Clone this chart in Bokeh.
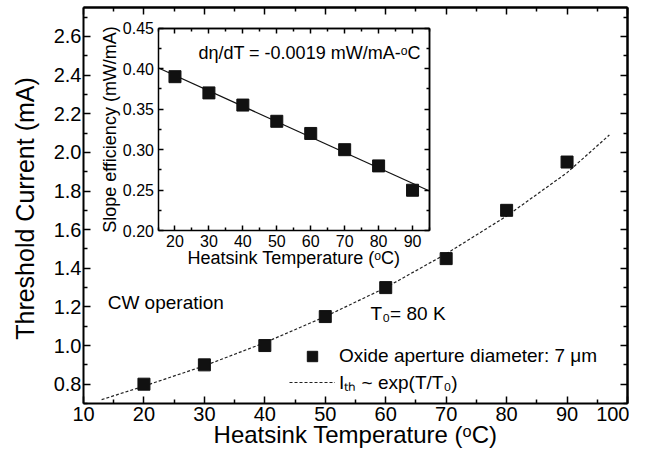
import math
from bokeh.plotting import figure
from bokeh.models import (Range1d, LinearAxis, FixedTicker, Label,
                          Legend, LegendItem, PrintfTickFormatter)
from bokeh.embed import file_html
from bokeh.resources import INLINE

# ---------------- data ----------------
temp = [20, 30, 40, 50, 60, 70, 80, 90]
ith = [0.80, 0.90, 1.00, 1.15, 1.30, 1.45, 1.70, 1.95]
fit_temp = [13, 20, 30, 40, 50, 60, 70, 80, 90, 97]
fit_ith = [0.72, 0.79, 0.895, 1.015, 1.15, 1.30, 1.475, 1.67, 1.895, 2.09]

inset_temp = [20, 30, 40, 50, 60, 70, 80, 90]
slope_eff = [0.39, 0.37, 0.355, 0.335, 0.32, 0.30, 0.28, 0.25]
inset_fit_temp = [15, 95]
inset_fit_eff = [0.401, 0.249]

main_x_major = [10, 20, 30, 40, 50, 60, 70, 80, 90, 100]
main_x_minor = [15, 25, 35, 45, 55, 65, 75, 85, 95]
main_y_major = [0.8, 1.0, 1.2, 1.4, 1.6, 1.8, 2.0, 2.2, 2.4, 2.6]
main_y_minor = [0.7, 0.9, 1.1, 1.3, 1.5, 1.7, 1.9, 2.1, 2.3, 2.5, 2.7]
inset_x_ticks = [20, 30, 40, 50, 60, 70, 80, 90]
inset_x_minor = [15, 25, 35, 45, 55, 65, 75, 85, 95]
inset_y_ticks = [0.20, 0.25, 0.30, 0.35, 0.40, 0.45]
inset_y_minor = [0.225, 0.275, 0.325, 0.375, 0.425]

FONT = "Liberation Sans"
BASE = 0.35   # Label anchor -> alphabetic baseline offset, in em

# ---------------- layout (px inside the 629x448 canvas) ----------------
W, H = 629, 448
XR = (10, 100)
YR = (0.7, 2.75)
FX0, FX1 = 83, 627      # main plot box left/right
FY0, FY1 = 7, 403       # main plot box top/bottom
IX0, IX1 = 157.5, 429   # inset box left/right
IY0, IY1 = 27.5, 230.3  # inset box top/bottom
INS_X = (15, 95)
INS_Y = (0.20, 0.45)

# the frame covers the whole canvas; axes are drawn at fixed locations inside it
mpx = (FX1 - FX0) / (XR[1] - XR[0])
mpy = (FY1 - FY0) / (YR[1] - YR[0])
x_start, x_end = XR[0] - FX0 / mpx, XR[1] + (W - FX1) / mpx
y_start, y_end = YR[0] - (H - FY1) / mpy, YR[1] + FY0 / mpy

ppx = (IX1 - IX0) / (INS_X[1] - INS_X[0])
ppy = (IY1 - IY0) / (INS_Y[1] - INS_Y[0])
ix_start, ix_end = INS_X[0] - IX0 / ppx, INS_X[1] + (W - IX1) / ppx
iy_start, iy_end = INS_Y[0] - (H - IY1) / ppy, INS_Y[1] + IY0 / ppy

p = figure(width=W, height=H, x_range=Range1d(x_start, x_end), y_range=Range1d(y_start, y_end),
           output_backend="svg", toolbar_location=None,
           x_axis_location=None, y_axis_location=None, min_border=0)
p.extra_x_ranges = {"ix": Range1d(ix_start, ix_end)}
p.extra_y_ranges = {"iy": Range1d(iy_start, iy_end)}
p.grid.visible = False
p.outline_line_color = None
p.background_fill_color = "white"
p.border_fill_color = "white"


def style(ax, tick_in=7, minor_in=4, lab_size="20px", lw=2):
    ax.axis_line_width = lw
    ax.axis_line_color = "black"
    ax.major_tick_in = tick_in
    ax.major_tick_out = 0
    ax.minor_tick_in = minor_in
    ax.minor_tick_out = 0
    ax.major_tick_line_width = 1.5
    ax.minor_tick_line_width = 1.5
    ax.major_tick_line_color = "black"
    ax.minor_tick_line_color = "black"
    ax.major_label_text_font = FONT
    ax.major_label_text_font_size = lab_size
    ax.major_label_text_color = "black"
    ax.axis_label_text_font = FONT
    ax.axis_label_text_font_style = "normal"
    ax.axis_label_text_color = "black"


def add_axis(side, fixed, bounds, ticks, minor, xr="default", yr="default", **kw):
    ax = LinearAxis(fixed_location=fixed, bounds=bounds, x_range_name=xr, y_range_name=yr,
                    ticker=FixedTicker(ticks=ticks, minor_ticks=minor))
    style(ax, **kw)
    p.add_layout(ax, side)
    return ax


# ---- main axes ----
xa = add_axis("below", YR[0], XR, main_x_major, main_x_minor)
xa.major_label_standoff = 3
ya = add_axis("left", XR[0], YR, main_y_major, main_y_minor)
ya.formatter = PrintfTickFormatter(format="%.1f")
ya.major_label_standoff = 2
# top and right edges: ticks only (no labels), long and short ticks
add_axis("above", YR[1], XR, [], main_x_major, minor_in=7)
add_axis("above", YR[1], XR, [], main_x_minor, minor_in=4)
add_axis("right", XR[1], YR, [], main_y_major, minor_in=7)
add_axis("right", XR[1], YR, [], main_y_minor, minor_in=4)

# axis titles: baseline of x title at px 442, baseline of y title at px 33
p.add_layout(Label(x=(XR[0] + XR[1]) / 2, y=YR[0] - (442 - BASE * 24 - FY1) / mpy,
                   text="Heatsink Temperature (ᵒC)", text_font=FONT, text_font_size="24px",
                   text_align="center", text_baseline="alphabetic", text_color="black"))
p.add_layout(Label(x=XR[0] - (FX0 - 33 + BASE * 25) / mpx, y=YR[0] + (FY1 - 208) / mpy,
                   angle=math.pi / 2,
                   text="Threshold Current (mA)", text_font=FONT, text_font_size="25px",
                   text_align="center", text_baseline="alphabetic", text_color="black"))

# ---- inset axes ----
ib = add_axis("below", INS_Y[0], INS_X, inset_x_ticks, inset_x_minor, xr="ix", yr="iy",
              tick_in=5, minor_in=3, lab_size="16px", lw=1.5)
ib.major_label_standoff = 4
ib.axis_label = "Heatsink Temperature (ᵒC)"
ib.axis_label_text_font_size = "18px"
ib.axis_label_standoff = -2

il = add_axis("left", INS_X[0], INS_Y, inset_y_ticks, inset_y_minor, xr="ix", yr="iy",
              tick_in=5, minor_in=3, lab_size="16px", lw=1.5)
il.formatter = PrintfTickFormatter(format="%.2f")
il.major_label_standoff = 4
il.axis_label = "Slope efficiency (mW/mA)"
il.axis_label_text_font_size = "18px"
il.axis_label_standoff = 0

add_axis("above", INS_Y[1], INS_X, [], inset_x_ticks, xr="ix", yr="iy", minor_in=5, lw=1.5)
add_axis("above", INS_Y[1], INS_X, [], inset_x_minor, xr="ix", yr="iy", minor_in=3, lw=1.5)
add_axis("right", INS_X[1], INS_Y, [], inset_y_ticks, xr="ix", yr="iy", minor_in=5, lw=1.5)
add_axis("right", INS_X[1], INS_Y, [], inset_y_minor, xr="ix", yr="iy", minor_in=3, lw=1.5)

# ---- main data ----
r_fit = p.line(fit_temp, fit_ith, line_color="#222222", line_width=1.2, line_dash="3 2")
r_pts = p.scatter(temp, ith, marker="square", size=12, fill_color="#111111", line_color="#111111")

# ---- inset data ----
p.line(inset_fit_temp, inset_fit_eff, x_range_name="ix", y_range_name="iy",
       line_color="#111111", line_width=1.2)
p.scatter(inset_temp, slope_eff, x_range_name="ix", y_range_name="iy",
          marker="square", size=12, fill_color="#111111", line_color="#111111")

# ---- texts (data position = baseline start) ----
p.add_layout(Label(x=14.0, y=1.187 + BASE * 19 / mpy, text="CW operation", text_font=FONT,
                   text_font_size="19px", text_baseline="alphabetic", text_color="black"))
p.add_layout(Label(x=57.5, y=1.132 + BASE * 19 / mpy, text="T₀= 80 K", text_font=FONT,
                   text_font_size="19px", text_baseline="alphabetic", text_color="black"))
p.add_layout(Label(x=26.9, y=0.412 + BASE * 18 / ppy, x_range_name="ix", y_range_name="iy",
                   text="dη/dT = -0.0019 mW/mA-ᵒC", text_font=FONT,
                   text_font_size="18px", text_baseline="alphabetic", text_color="black"))

legend = Legend(items=[LegendItem(label="Oxide aperture diameter: 7 μm", renderers=[r_pts]),
                       LegendItem(label="Iₜₕ ~ exp(T/T₀)", renderers=[r_fit])],
                location=(FX0 + 206, H - FY1 + 8), orientation="vertical", padding=0, margin=0,
                spacing=0, glyph_width=46, glyph_height=26, label_height=26, label_standoff=4,
                border_line_color=None, background_fill_alpha=0,
                label_text_font=FONT, label_text_font_size="19px", label_text_color="black")
p.add_layout(legend)

open("out.html", "w").write(file_html(p, INLINE))
